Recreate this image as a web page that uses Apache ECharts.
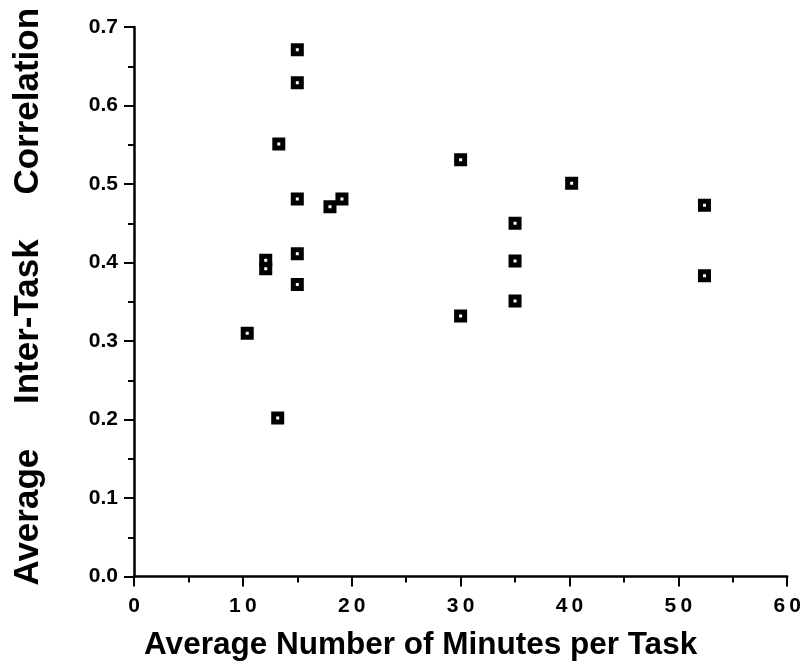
<!DOCTYPE html>
<html>
<head>
<meta charset="utf-8">
<script src="https://cdn.jsdelivr.net/npm/echarts@6/dist/echarts.min.js"></script>
<style>html,body{margin:0;padding:0;background:#fff;}#c{width:804px;height:672px;}</style>
</head>
<body>
<div id="c"></div>
<script>
// Data
const minutesPerTask = [15, 15, 13.3, 15, 18, 19.1, 15, 12.1, 12.1, 15, 10.4, 13.2, 30, 40.2, 52.4, 35, 35, 52.4, 35, 30];
const interTaskCorr  = [0.671, 0.629, 0.551, 0.481, 0.471, 0.481, 0.411, 0.403, 0.392, 0.372, 0.310, 0.202, 0.531, 0.501, 0.473, 0.450, 0.402, 0.383, 0.351, 0.332];
const xTitle = 'Average Number of Minutes per Task';
const yTitle = 'Average\u2003 Inter-Task\u2003 Correlation';

const points = minutesPerTask.map((x, i) => [x, interTaskCorr[i]]);
const FONT = "'Liberation Sans', Arial, Helvetica, sans-serif";

const chart = echarts.init(document.getElementById('c'), null, {renderer: 'canvas'});
chart.setOption({
  backgroundColor: '#ffffff',
  animation: false,
  grid: {left: 134, right: 15, top: 27, bottom: 95.5, containLabel: false},
  xAxis: {
    type: 'value', min: 0, max: 60, interval: 10,
    name: xTitle, nameLocation: 'middle', nameGap: 53,
    nameTextStyle: {fontFamily: FONT, fontSize: 31.5, fontWeight: 'bold', color: '#000', padding: [0, 80, 0, 0]},
    axisLine: {show: true, onZero: false, lineStyle: {color: '#000', width: 2.5}},
    axisTick: {show: true, inside: false, length: 10, lineStyle: {color: '#000', width: 2}},
    minorTick: {show: true, splitNumber: 2, length: 6, lineStyle: {color: '#000', width: 2}},
    axisLabel: {fontFamily: FONT, fontSize: 21, fontWeight: 'bold', color: '#000', margin: 19,
      formatter: v => String(v).split('').join('\u2009')},
    splitLine: {show: false}, minorSplitLine: {show: false}
  },
  yAxis: {
    type: 'value', min: 0, max: 0.7, interval: 0.1,
    name: yTitle, nameLocation: 'middle', nameRotate: 90, nameGap: 88,
    nameTextStyle: {fontFamily: FONT, fontSize: 35, fontWeight: 'bold', color: '#000', padding: [0, 0, 0, 10]},
    axisLine: {show: true, onZero: false, lineStyle: {color: '#000', width: 2.5}},
    axisTick: {show: true, inside: false, length: 10, lineStyle: {color: '#000', width: 2}},
    minorTick: {show: true, splitNumber: 2, length: 6, lineStyle: {color: '#000', width: 2}},
    axisLabel: {fontFamily: FONT, fontSize: 21, fontWeight: 'bold', color: '#000', margin: 16,
      formatter: v => v.toFixed(1)},
    splitLine: {show: false}, minorSplitLine: {show: false}
  },
  series: [{
    type: 'scatter',
    data: points,
    symbol: 'rect',
    symbolSize: 8,
    itemStyle: {color: '#ffffff', borderColor: '#000000', borderWidth: 5, opacity: 1}
  }]
});
</script>
</body>
</html>
